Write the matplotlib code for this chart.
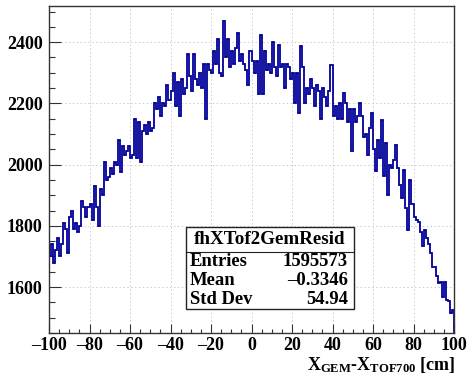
import numpy as np
import matplotlib
matplotlib.use("Agg")
import matplotlib.pyplot as plt
from matplotlib.ticker import MultipleLocator, FuncFormatter
from matplotlib.patches import Rectangle

plt.rcParams['font.family'] = ['Liberation Serif', 'DejaVu Serif']
plt.rcParams['mathtext.fontset'] = 'custom'
plt.rcParams['mathtext.rm'] = 'Liberation Serif'
plt.rcParams['mathtext.bf'] = 'Liberation Serif:bold'
plt.rcParams['mathtext.it'] = 'Liberation Serif:italic'

# histogram range and bin contents (1 cm bins from -100 to 100)
x_min, x_max = -100, 100
counts = [
    1700, 1740, 1680, 1720, 1760, 1700, 1740, 1810, 1790, 1710,
    1830, 1850, 1790, 1810, 1780, 1800, 1880, 1860, 1830, 1860,
    1870, 1820, 1930, 1860, 1800, 1920, 1900, 2010, 1950, 1960,
    1990, 1970, 2010, 2000, 2080, 1975, 2060, 2030, 2045, 2060,
    2020, 2030, 2150, 2020, 2140, 2010, 2110, 2130, 2100, 2140,
    2110, 2120, 2200, 2180, 2220, 2160, 2200, 2190, 2260, 2210,
    2240, 2300, 2190, 2270, 2160, 2280, 2230, 2250, 2360, 2290,
    2240, 2360, 2280, 2260, 2300, 2250, 2330, 2150, 2330, 2310,
    2300, 2370, 2330, 2410, 2300, 2290, 2468, 2350, 2410, 2320,
    2370, 2330, 2380, 2430, 2340, 2360, 2330, 2310, 2260, 2370,
    2340, 2300, 2340, 2230, 2424, 2230, 2370, 2310, 2330, 2300,
    2400, 2320, 2290, 2390, 2320, 2330, 2250, 2330, 2320, 2280,
    2300, 2200, 2300, 2170, 2386, 2320, 2200, 2250, 2230, 2280,
    2250, 2190, 2260, 2240, 2150, 2250, 2220, 2190, 2240, 2326,
    2160, 2190, 2150, 2200, 2150, 2234, 2200, 2140, 2180, 2043,
    2180, 2140, 2160, 2201, 2160, 2090, 2100, 2030, 2120, 2170,
    2050, 1980, 2080, 2020, 2147, 1962, 2070, 1902, 2000, 1990,
    2016, 2065, 1989, 1934, 1891, 1983, 1858, 1787, 1950, 1870,
    1830, 1820, 1814, 1780, 1733, 1787, 1760, 1740, 1711, 1667,
    1667, 1635, 1613, 1618, 1569, 1618, 1558, 1553, 1515, 1526,
]
y_lim = (1450, 2518)

stats_title = "fhXTof2GemResid"
stats_labels = ["Entries", "Mean", "Std Dev"]
stats_values = ["1595573", "\u20130.3346", "54.94"]

W, H = 469, 376
fig = plt.figure(figsize=(W / 100, H / 100), dpi=100)
ax = fig.add_axes([49 / W, 1 - 333 / H, (454 - 49) / W, (333 - 6) / H])

edges = np.linspace(x_min, x_max, len(counts) + 1)
ax.stairs(counts, edges, baseline=0, color='#000099', lw=1.3)

ax.set_xlim(x_min, x_max)
ax.set_ylim(*y_lim)

ax.xaxis.set_major_locator(MultipleLocator(20))
ax.xaxis.set_minor_locator(MultipleLocator(5))
ax.yaxis.set_major_locator(MultipleLocator(200))
ax.yaxis.set_minor_locator(MultipleLocator(50))

def fmt(v, pos):
    s = f"{int(round(v))}"
    return s.replace('-', '\u2013')
ax.xaxis.set_major_formatter(FuncFormatter(fmt))
ax.yaxis.set_major_formatter(FuncFormatter(fmt))

ax.tick_params(axis='both', which='both', direction='in', top=False, right=False,
               color='#333333', width=0.8)
ax.tick_params(axis='x', which='major', length=6.5, pad=3, labelsize=13)
ax.tick_params(axis='x', which='minor', length=3.2)
ax.tick_params(axis='y', which='major', length=8.6, pad=4.5, labelsize=13)
ax.tick_params(axis='y', which='minor', length=4.3)
for lab in ax.get_xticklabels() + ax.get_yticklabels():
    lab.set_fontweight('bold')

ax.grid(True, which='major', color='#cccccc', linestyle=(0, (1.5, 2.5)), lw=0.7)
ax.set_axisbelow(True)
for s in ax.spines.values():
    s.set_color('#333333')
    s.set_linewidth(1.0)

fig.text(455 / W, 1 - 370 / H,
         r'$\mathbf{X}_{\mathbf{GEM}}$-$\mathbf{X}_{\mathbf{TOF700}}$ [cm]',
         ha='right', va='baseline', fontsize=13, fontweight='bold')

# stats box
bx0, bx1, by0, by1, bdiv = 186, 354, 227, 309, 252
fig.add_artist(Rectangle((bx0 / W, 1 - by1 / H), (bx1 - bx0) / W, (by1 - by0) / H,
                         transform=fig.transFigure, facecolor='white',
                         edgecolor='#222222', lw=1.0, zorder=5))
fig.add_artist(plt.Line2D([bx0 / W, bx1 / W], [1 - bdiv / H, 1 - bdiv / H],
                          transform=fig.transFigure, color='#222222', lw=0.8, zorder=6))
fig.text((bx0 + bx1) / 2 / W, 1 - (by0 + bdiv) / 2 / H, stats_title,
         ha='center', va='center', fontsize=13.7, fontweight='bold', zorder=7)
row_h = (by1 - bdiv) / len(stats_labels)
for k, (lab, val) in enumerate(zip(stats_labels, stats_values)):
    yc = bdiv + row_h * (k + 0.5)
    fig.text((bx0 + 4) / W, 1 - yc / H, lab, ha='left', va='center',
             fontsize=13.4, fontweight='bold', zorder=7)
    fig.text((bx1 - 6) / W, 1 - yc / H, val, ha='right', va='center',
             fontsize=13.4, fontweight='bold', zorder=7)

fig.savefig('out.png', dpi=100)
